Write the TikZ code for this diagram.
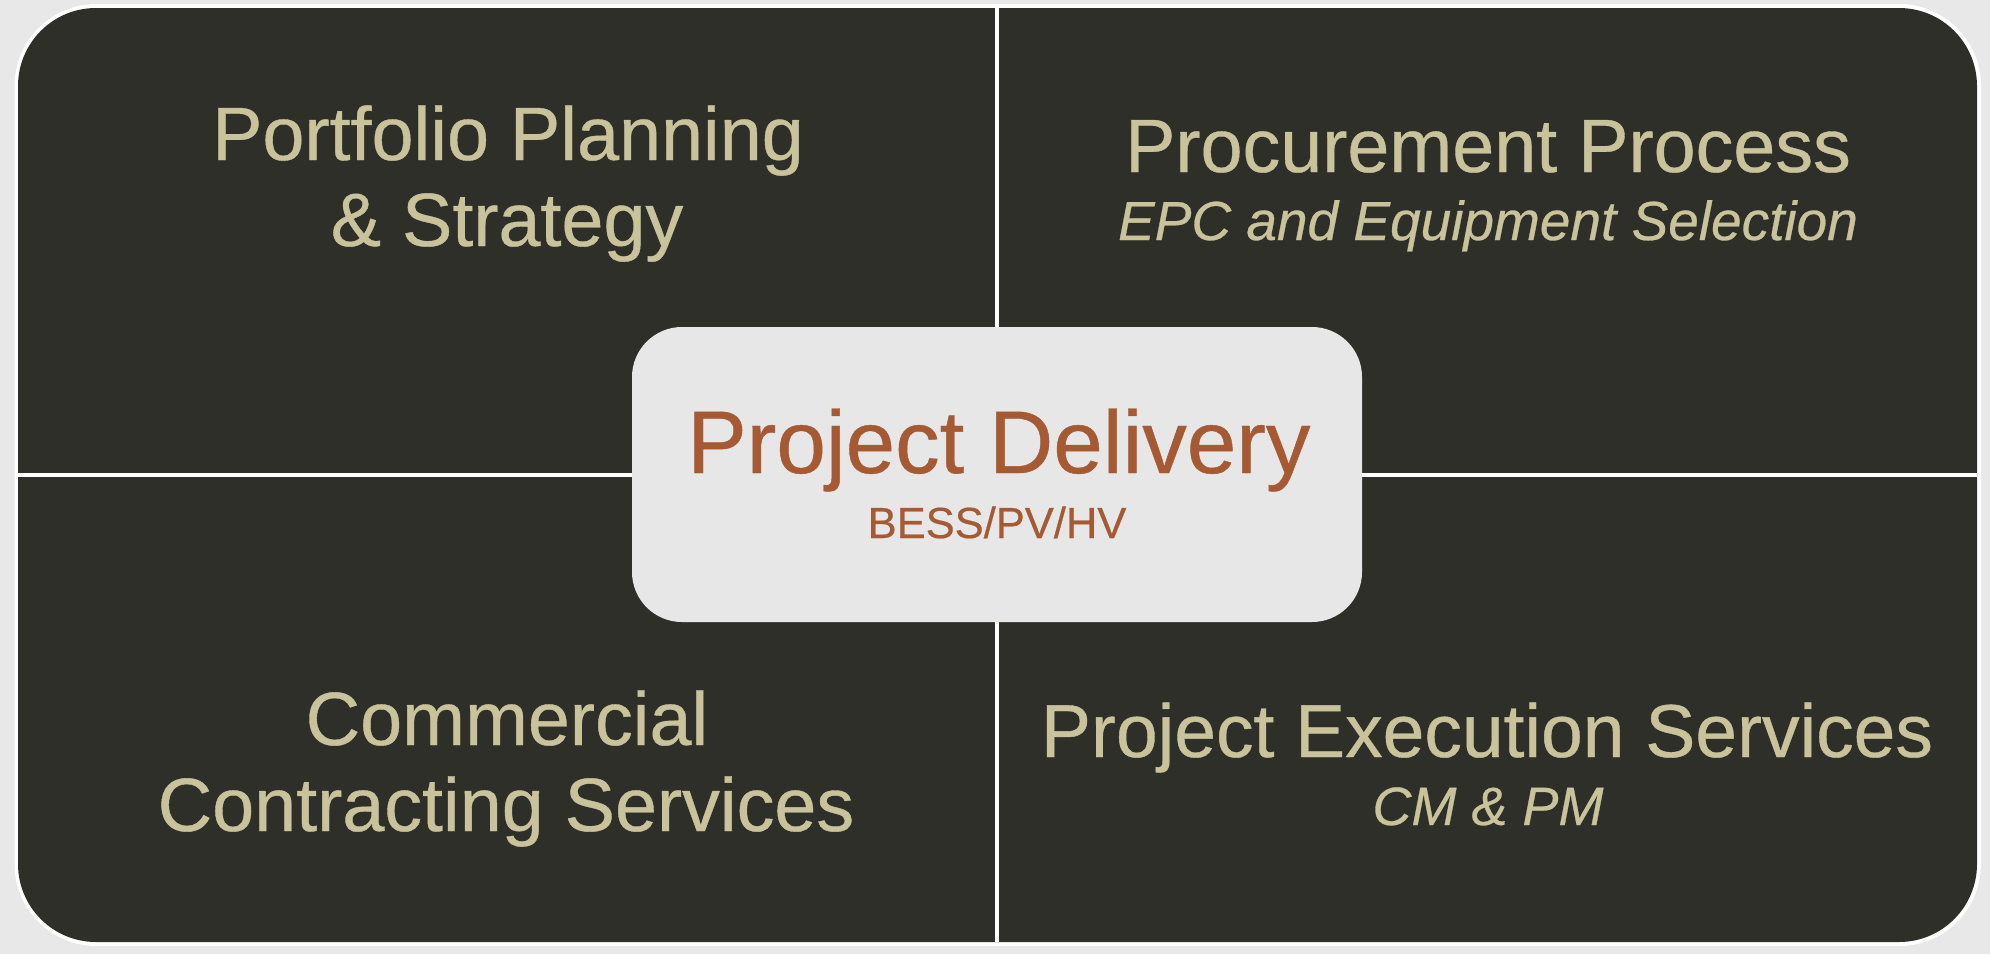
\documentclass[tikz,border=0pt]{standalone}
\usepackage{fontspec}
\setmainfont{Liberation Sans}
\newfontfamily\heavysans[FakeBold=0.5]{Liberation Sans}
\definecolor{pagegray}{HTML}{E8E8E8}
\definecolor{panel}{HTML}{2F2F2A}
\definecolor{beige}{HTML}{C8C39B}
\definecolor{rust}{HTML}{A65A33}
\definecolor{boxgray}{HTML}{E7E7E7}
\tikzset{
  heading/.style={anchor=base, inner sep=0pt, text=beige, font=\heavysans\fontsize{75.5pt}{75.5pt}\selectfont},
  subhead/.style={anchor=base, inner sep=0pt, text=beige, font=\heavysans\fontsize{55pt}{55pt}\selectfont\itshape},
  corebox/.style={fill=boxgray, rounded corners=50pt, minimum width=730pt, minimum height=295pt, inner sep=0pt},
  coretitle/.style={anchor=base, inner sep=0pt, text=rust, font=\heavysans\fontsize{89pt}{89pt}\selectfont},
  coresub/.style={anchor=base, inner sep=0pt, text=rust, font=\heavysans\fontsize{43.5pt}{43.5pt}\selectfont},
  divider/.style={white, line width=4pt}
}
\begin{document}
\begin{tikzpicture}[x=1pt,y=-1pt]
\fill[pagegray] (0,0) rectangle (1990,954);
\useasboundingbox (0,0) rectangle (1990,954);
\fill[white, rounded corners=82pt] (14.5,4) rectangle (1981,946);
\fill[panel, rounded corners=78pt] (18,8) rectangle (1977,942);
\coordinate (vtop) at (997,8);
\coordinate (vbot) at (997,942);
\coordinate (hleft) at (18,474.5);
\coordinate (hright) at (1977,474.5);
\draw[divider] (vtop) -- (vbot);
\draw[divider] (hleft) -- (hright);
\node[corebox] (core) at (997,474.5) {};
\node[coretitle] (pd) at (999,473) {Project Delivery};
\node[coresub] (bess) at (997,538) {BESS/PV/HV};
\node[heading] (pp1) at (508,160) {Portfolio Planning};
\node[heading] (pp2) at (507,246) {\& Strategy};
\node[heading] (proc) at (1488,172) {Procurement Process};
\node[subhead] (epc) at (1488,240) {EPC and Equipment Selection};
\node[heading] (cc1) at (507,745) {Commercial};
\node[heading] (cc2) at (506,831) {Contracting Services};
\node[heading, font=\heavysans\fontsize{75pt}{75pt}\selectfont] (pes) at (1487,757) {Project Execution Services};
\node[subhead, font=\heavysans\fontsize{54pt}{54pt}\selectfont\itshape] (cmpm) at (1488,825) {CM \& PM};
\end{tikzpicture}
\end{document}
